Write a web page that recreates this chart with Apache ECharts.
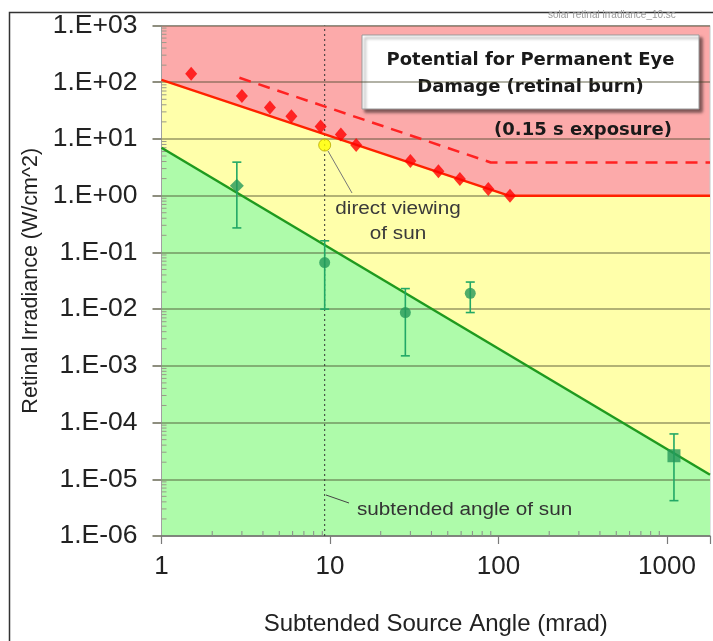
<!DOCTYPE html>
<html>
<head>
<meta charset="utf-8">
<script src="https://cdn.jsdelivr.net/npm/echarts@6/dist/echarts.min.js"></script>
<style>
  html, body { margin: 0; padding: 0; background: #ffffff; }
  #chart { width: 713px; height: 641px; }
</style>
</head>
<body>
<div id="chart"></div>
<script>
// Axis ranges: source angle (mrad) and retinal irradiance (W/cm^2)
const xRange = [1, 1800];
const yRange = [1e-6, 1e3];
const xTickLabels = ['1', '10', '100', '1000'];
const yTickLabels = ['1.E-06', '1.E-05', '1.E-04', '1.E-03', '1.E-02', '1.E-01',
                     '1.E+00', '1.E+01', '1.E+02', '1.E+03'];

// Retinal burn threshold (upper zone boundary)
const burnLimitX = [1, 115, 1800];
const burnLimitY = [110, 1, 1];

// After-image threshold (lower zone boundary)
const afterLimitX = [1, 1800];
const afterLimitY = [7, 1.2e-5];

// Threshold for a 0.15 s exposure
const exposureX = [2.9, 90, 1800];
const exposureY = [120, 3.85, 3.85];

// Measured retinal burn thresholds
const burnX = [1.5, 3, 4.4, 5.9, 8.8, 11.6, 14.3, 30, 44, 59, 87, 117];
const burnY = [141, 57, 36, 25, 16.6, 12, 7.8, 4.1, 2.7, 1.96, 1.31, 1.0];

// After-image observations with their ranges
const obsX = [2.8, 9.3, 28, 68, 1100];
const obsY = [1.5, 0.066, 0.0087, 0.019, 2.6e-5];
const obsLow = [0.27, 0.01, 0.0015, 0.0087, 4.2e-6];
const obsHigh = [3.9, 0.16, 0.023, 0.030, 6.3e-5];
const obsSymbol = ['diamond', 'circle', 'circle', 'circle', 'rect'];

// The sun: subtended angle and irradiance when viewed directly
const sunAngle = 9.3;
const sunIrradiance = 7.8;

const zip = (xs, ys) => xs.map((x, i) => [x, ys[i]]);

// Minor log ticks (2..9 within each decade)
const minorWithin = (lo, hi) => {
  const out = [];
  for (let e = Math.floor(Math.log10(lo)); e <= Math.ceil(Math.log10(hi)); e++) {
    for (let m = 2; m <= 9; m++) {
      const v = m * Math.pow(10, e);
      if (v > lo && v < hi) out.push(v);
    }
  }
  return out;
};
const xMinor = minorWithin(xRange[0], xRange[1]);
const yMinor = minorWithin(yRange[0], yRange[1]);

const labelFont = 'Liberation Sans, Arial, sans-serif';
const boxFont = 'DejaVu Sans, Verdana, sans-serif';
const isPow10 = v => Math.abs(Math.log10(v) - Math.round(Math.log10(v))) < 1e-6;

const chart = echarts.init(document.getElementById('chart'), null, { renderer: 'canvas' });

function textBox(x, y, w, h, lines, lineY) {
  const children = [{
    type: 'rect',
    shape: { x: x, y: y, width: w, height: h },
    style: {
      fill: '#ffffff', stroke: '#9a9a9a', lineWidth: 1,
      shadowBlur: 3, shadowOffsetX: 3, shadowOffsetY: 3, shadowColor: 'rgba(0,0,0,0.5)'
    }
  }];
  lines.forEach((t, i) => children.push({
    type: 'text',
    style: {
      text: t, x: x + w / 2, y: lineY[i], align: 'center', verticalAlign: 'middle',
      fontFamily: boxFont, fontWeight: 'bold', fontSize: 18, fill: '#1a1a1a'
    }
  }));
  return { type: 'group', z: 100, children: children };
}

const option = {
  animation: false,
  backgroundColor: '#ffffff',
  grid: {
    left: 161.5, top: 25.5, right: 0, bottom: 102.5,
    show: true, backgroundColor: '#fcaaaa', borderColor: '#c8c8c8', borderWidth: 1
  },
  xAxis: {
    type: 'log', logBase: 10, min: xRange[0], max: xRange[1], z: 3,
    axisLine: { show: true, lineStyle: { color: '#7a7a7a', width: 1.5 } },
    axisTick: { show: true, length: 8, lineStyle: { color: '#7a7a7a', width: 1.2 } },
    axisLabel: {
      margin: 18, fontSize: 26, fontFamily: labelFont, color: '#222',
      formatter: v => isPow10(v) ? (xTickLabels[Math.round(Math.log10(v))] || '') : ''
    },
    splitLine: { show: false },
    name: 'Subtended Source Angle (mrad)', nameLocation: 'middle', nameGap: 76,
    nameTextStyle: { fontSize: 24, fontFamily: labelFont, color: '#222' }
  },
  yAxis: {
    type: 'log', logBase: 10, min: yRange[0], max: yRange[1], z: 3,
    axisLine: { show: true, lineStyle: { color: '#a0a0a0', width: 1 } },
    axisTick: { show: true, length: 9, lineStyle: { color: '#6a6a55', width: 1.5 } },
    axisLabel: {
      margin: 24, fontSize: 26.5, fontFamily: labelFont, color: '#222',
      formatter: v => isPow10(v) ? (yTickLabels[Math.round(Math.log10(v)) + 6] || '') : ''
    },
    splitLine: { show: true, lineStyle: { color: 'rgba(70,70,40,0.55)', width: 1.5 } },
    name: 'Retinal Irradiance (W/cm^2)', nameLocation: 'middle', nameGap: 114,
    nameTextStyle: { fontSize: 21.5, fontFamily: labelFont, color: '#222' }
  },
  series: [
    {
      // after-image zone (below the burn threshold)
      type: 'line', data: zip(burnLimitX, burnLimitY), symbol: 'none', silent: true, z: 1,
      lineStyle: { width: 0, opacity: 0 },
      areaStyle: { color: '#ffffaa', opacity: 1, origin: 'start' }
    },
    {
      // low-potential zone (below the after-image threshold)
      type: 'line', data: zip(afterLimitX, afterLimitY), symbol: 'none', silent: true, z: 1,
      lineStyle: { width: 0, opacity: 0 },
      areaStyle: { color: '#aefbaa', opacity: 1, origin: 'start' }
    },
    {
      type: 'custom', z: 4, silent: true,
      data: xMinor.map(v => [v, yRange[0]]),
      renderItem: (params, api) => {
        const p = api.coord([api.value(0), api.value(1)]);
        return { type: 'line', shape: { x1: p[0], y1: p[1], x2: p[0], y2: p[1] - 5 },
                 style: { stroke: '#8a8a8a', lineWidth: 1 } };
      }
    },
    {
      type: 'custom', z: 4, silent: true,
      data: yMinor.map(v => [xRange[0], v]),
      renderItem: (params, api) => {
        const p = api.coord([api.value(0), api.value(1)]);
        return { type: 'line', shape: { x1: p[0], y1: p[1], x2: p[0] + 5, y2: p[1] },
                 style: { stroke: '#9a9a8a', lineWidth: 1 } };
      }
    },
    {
      // subtended angle of the sun
      type: 'line', data: [[sunAngle, yRange[0]], [sunAngle, yRange[1]]], symbol: 'none', z: 4,
      lineStyle: { color: '#333333', width: 1, type: [2, 3] }
    },
    {
      type: 'line', data: zip(burnLimitX, burnLimitY), symbol: 'none', z: 5,
      lineStyle: { color: '#ff2200', width: 2.5 }
    },
    {
      type: 'line', data: zip(afterLimitX, afterLimitY), symbol: 'none', z: 5,
      lineStyle: { color: '#1f9a1f', width: 2.5 }
    },
    {
      type: 'line', data: zip(exposureX, exposureY), symbol: 'none', z: 5,
      lineStyle: { color: '#ff2222', width: 2.5, type: [12, 8] }
    },
    {
      type: 'scatter', data: zip(burnX, burnY), symbol: 'diamond', symbolSize: [12, 14], z: 6,
      itemStyle: { color: '#ff0000' }
    },
    {
      // ranges of the after-image observations
      type: 'custom', z: 6, silent: true,
      data: obsX.map((x, i) => [x, obsLow[i], obsHigh[i]]),
      encode: { x: 0, y: [1, 2] },
      renderItem: (params, api) => {
        const x = api.value(0);
        const lo = api.coord([x, api.value(1)]);
        const hi = api.coord([x, api.value(2)]);
        const w = 4.5;
        const st = { stroke: '#22a866', lineWidth: 1.6 };
        return {
          type: 'group', children: [
            { type: 'line', shape: { x1: lo[0], y1: lo[1], x2: hi[0], y2: hi[1] }, style: st },
            { type: 'line', shape: { x1: lo[0] - w, y1: lo[1], x2: lo[0] + w, y2: lo[1] }, style: st },
            { type: 'line', shape: { x1: hi[0] - w, y1: hi[1], x2: hi[0] + w, y2: hi[1] }, style: st }
          ]
        };
      }
    },
    {
      type: 'scatter', z: 7,
      data: obsX.map((x, i) => ({ value: [x, obsY[i]], symbol: obsSymbol[i],
                                  symbolSize: obsSymbol[i] === 'rect' ? 13 : (obsSymbol[i] === 'diamond' ? 14 : 11) })),
      itemStyle: { color: '#24995a' }
    },
    {
      type: 'scatter', z: 7, data: [[sunAngle, sunIrradiance]], symbol: 'circle', symbolSize: 12,
      itemStyle: { color: '#ffff00', borderColor: '#b8a800', borderWidth: 1 }
    }
  ],
  graphic: [
    {
      type: 'rect', z: -10, silent: true,
      shape: { x: 9.5, y: 12.5, width: 720, height: 640 },
      style: { fill: 'none', stroke: '#333333', lineWidth: 1.5 }
    },
    {
      type: 'text', z: 100,
      style: { text: 'solar retinal irradiance_10.sc', x: 548, y: 15, verticalAlign: 'middle',
               fontFamily: labelFont, fontSize: 10, fill: '#9a9a9a' }
    },
    textBox(362, 35, 337, 74, ['Potential for Permanent Eye', 'Damage (retinal burn)'], [60, 87]),
    {
      type: 'text', z: 100,
      style: { text: '(0.15 s exposure)', x: 583, y: 130, align: 'center', verticalAlign: 'middle',
               fontFamily: boxFont, fontWeight: 'bold', fontSize: 18, fill: '#1a1a1a' }
    },
    textBox(495, 231, 182, 58, ['Potential for', 'After-Image'], [248, 275]),
    textBox(187, 382, 211, 80, ['Low Potential for', 'After-Image'], [407, 434]),
    {
      type: 'line', z: 100, silent: true,
      shape: { x1: 328, y1: 151, x2: 352, y2: 193 },
      style: { stroke: '#777777', lineWidth: 1 }
    },
    {
      type: 'text', z: 100, x: 398, y: 209, scaleX: 1.15,
      style: { text: 'direct viewing', x: 0, y: 0, align: 'center', verticalAlign: 'middle',
               fontFamily: labelFont, fontSize: 18, fill: '#3a3a3a' }
    },
    {
      type: 'text', z: 100, x: 398, y: 234, scaleX: 1.15,
      style: { text: 'of sun', x: 0, y: 0, align: 'center', verticalAlign: 'middle',
               fontFamily: labelFont, fontSize: 18, fill: '#3a3a3a' }
    },
    {
      type: 'line', z: 100, silent: true,
      shape: { x1: 326, y1: 495, x2: 349, y2: 503 },
      style: { stroke: '#444444', lineWidth: 1 }
    },
    {
      type: 'text', z: 100, x: 357, y: 510, scaleX: 1.15,
      style: { text: 'subtended angle of sun', x: 0, y: 0, verticalAlign: 'middle',
               fontFamily: labelFont, fontSize: 18, fill: '#333333' }
    }
  ]
};

chart.setOption(option);
</script>
</body>
</html>
